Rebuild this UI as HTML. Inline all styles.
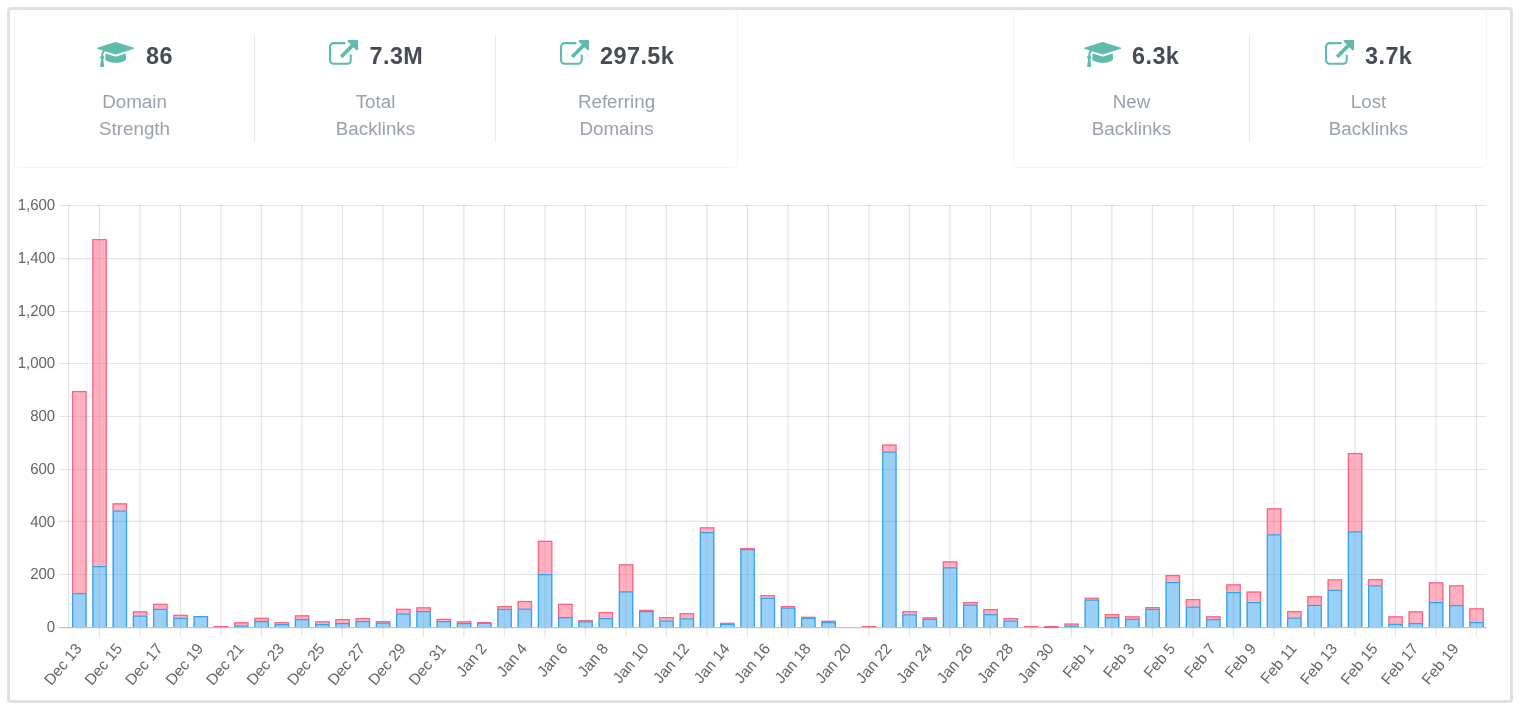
<!DOCTYPE html>
<html lang="en">
<head>
<meta charset="utf-8">
<title>Backlinks Overview</title>
<style>
html,body{margin:0;padding:0;background:#fff;}
body{width:1520px;height:710px;position:relative;overflow:hidden;font-family:"Liberation Sans",Arial,sans-serif;}
.frame{position:absolute;left:7px;top:7px;width:1500px;height:690px;border:3px solid #e1e1e1;border-radius:4px;z-index:5;}
.card{position:absolute;top:9px;height:157px;border:1px solid #f4f4f4;border-radius:6px;background:#fff;}
.c1{left:14px;width:722px;}
.c2{left:1013px;width:472px;}
.div{position:absolute;top:35px;width:1px;height:107px;background:#e5e9f2;}
.ic{position:absolute;}
.num{position:absolute;font-weight:bold;font-size:23.4px;line-height:26px;color:#474b54;white-space:nowrap;letter-spacing:0.45px;}
.lab{position:absolute;width:200px;text-align:center;font-size:18.8px;line-height:27px;color:#99a2ac;}
.chart{position:absolute;left:0;top:0;}
</style>
</head>
<body>
<div class="card c1"></div>
<div class="card c2"></div>
<div class="div" style="left:254px"></div>
<div class="div" style="left:495px"></div>
<div class="div" style="left:1249px"></div>
<svg class="ic" style="left:97px;top:39.6px" width="37.29" height="29" viewBox="0 0 2304 1792"><path fill="#5dbcab" d="M1774 836l18 316q4 69-82 128t-235 93.500-323 34.500-323-34.500-235-93.500-82-128l18-316 574 181q22 7 48 7t48-7zm530-324q0 23-22 31l-1120 352q-4 1-10 1t-10-1l-652-206q-43 34-71 111.500t-34 178.500q63 36 63 109 0 69-58 107l58 433q2 14-8 25-9 11-24 11h-192q-15 0-24-11-10-11-8-25l58-433q-58-38-58-107 0-73 65-111 11-207 98-330l-333-104q-22-8-22-31t22-31l1120-352q4-1 10-1t10 1l1120 352q22 8 22 31z"/></svg>
<div class="num" style="left:146px;top:43px">86</div>
<div class="lab" style="left:34.5px;top:87.5px">Domain<br>Strength</div>
<svg class="ic" style="left:329px;top:39.8px" width="29.00" height="29" viewBox="0 0 1792 1792"><path fill="#5dbcab" d="M1408 928v320q0 119-84.500 203.500t-203.500 84.500h-832q-119 0-203.500-84.500t-84.500-203.500v-832q0-119 84.500-203.500t203.500-84.500h704q14 0 23 9t9 23v64q0 14-9 23t-23 9h-704q-66 0-113 47t-47 113v832q0 66 47 113t113 47h832q66 0 113-47t47-113v-320q0-14 9-23t23-9h64q14 0 23 9t9 23zm384-864v512q0 26-19 45t-45 19-45-19l-176-176-652 652q-10 10-23 10t-23-10l-114-114q-10-10-10-23t10-23l652-652-176-176q-19-19-19-45t19-45 45-19h512q26 0 45 19t19 45z"/></svg>
<div class="num" style="left:369.5px;top:43px">7.3M</div>
<div class="lab" style="left:275.5px;top:87.5px">Total<br>Backlinks</div>
<svg class="ic" style="left:559.6px;top:39.8px" width="29.00" height="29" viewBox="0 0 1792 1792"><path fill="#5dbcab" d="M1408 928v320q0 119-84.500 203.500t-203.500 84.500h-832q-119 0-203.500-84.500t-84.500-203.500v-832q0-119 84.500-203.500t203.500-84.500h704q14 0 23 9t9 23v64q0 14-9 23t-23 9h-704q-66 0-113 47t-47 113v832q0 66 47 113t113 47h832q66 0 113-47t47-113v-320q0-14 9-23t23-9h64q14 0 23 9t9 23zm384-864v512q0 26-19 45t-45 19-45-19l-176-176-652 652q-10 10-23 10t-23-10l-114-114q-10-10-10-23t10-23l652-652-176-176q-19-19-19-45t19-45 45-19h512q26 0 45 19t19 45z"/></svg>
<div class="num" style="left:600px;top:43px">297.5k</div>
<div class="lab" style="left:516.5px;top:87.5px">Referring<br>Domains</div>
<svg class="ic" style="left:1084px;top:39.6px" width="37.29" height="29" viewBox="0 0 2304 1792"><path fill="#5dbcab" d="M1774 836l18 316q4 69-82 128t-235 93.500-323 34.500-323-34.500-235-93.500-82-128l18-316 574 181q22 7 48 7t48-7zm530-324q0 23-22 31l-1120 352q-4 1-10 1t-10-1l-652-206q-43 34-71 111.500t-34 178.500q63 36 63 109 0 69-58 107l58 433q2 14-8 25-9 11-24 11h-192q-15 0-24-11-10-11-8-25l58-433q-58-38-58-107 0-73 65-111 11-207 98-330l-333-104q-22-8-22-31t22-31l1120-352q4-1 10-1t10 1l1120 352q22 8 22 31z"/></svg>
<div class="num" style="left:1132px;top:43px">6.3k</div>
<div class="lab" style="left:1031.5px;top:87.5px">New<br>Backlinks</div>
<svg class="ic" style="left:1324.6px;top:39.8px" width="29.00" height="29" viewBox="0 0 1792 1792"><path fill="#5dbcab" d="M1408 928v320q0 119-84.500 203.500t-203.500 84.500h-832q-119 0-203.500-84.500t-84.500-203.500v-832q0-119 84.500-203.500t203.500-84.500h704q14 0 23 9t9 23v64q0 14-9 23t-23 9h-704q-66 0-113 47t-47 113v832q0 66 47 113t113 47h832q66 0 113-47t47-113v-320q0-14 9-23t23-9h64q14 0 23 9t9 23zm384-864v512q0 26-19 45t-45 19-45-19l-176-176-652 652q-10 10-23 10t-23-10l-114-114q-10-10-10-23t10-23l652-652-176-176q-19-19-19-45t19-45 45-19h512q26 0 45 19t19 45z"/></svg>
<div class="num" style="left:1365px;top:43px">3.7k</div>
<div class="lab" style="left:1268.5px;top:87.5px">Lost<br>Backlinks</div>
<svg class="chart" width="1520" height="710" viewBox="0 0 1520 710">
<g stroke-width="1.2">
<line x1="59" x2="1486.8" y1="627.65" y2="627.65" stroke="rgba(0,0,0,0.23)"/>
<line x1="59" x2="1486.8" y1="574.5" y2="574.5" stroke="rgba(0,0,0,0.1)"/>
<line x1="59" x2="1486.8" y1="521.45" y2="521.45" stroke="rgba(0,0,0,0.1)"/>
<line x1="59" x2="1486.8" y1="469.5" y2="469.5" stroke="rgba(0,0,0,0.1)"/>
<line x1="59" x2="1486.8" y1="416.5" y2="416.5" stroke="rgba(0,0,0,0.1)"/>
<line x1="59" x2="1486.8" y1="363.5" y2="363.5" stroke="rgba(0,0,0,0.1)"/>
<line x1="59" x2="1486.8" y1="311.5" y2="311.5" stroke="rgba(0,0,0,0.1)"/>
<line x1="59" x2="1486.8" y1="258.55" y2="258.55" stroke="rgba(0,0,0,0.1)"/>
<line x1="59" x2="1486.8" y1="205.5" y2="205.5" stroke="rgba(0,0,0,0.1)"/>
<line x1="68.5" x2="68.5" y1="204.9" y2="628.0" stroke="rgba(0,0,0,0.1)"/>
<line x1="99.40" x2="99.40" y1="204.9" y2="637.1" stroke="rgba(0,0,0,0.1)"/>
<line x1="139.90" x2="139.90" y1="204.9" y2="637.1" stroke="rgba(0,0,0,0.1)"/>
<line x1="180.40" x2="180.40" y1="204.9" y2="637.1" stroke="rgba(0,0,0,0.1)"/>
<line x1="220.90" x2="220.90" y1="204.9" y2="637.1" stroke="rgba(0,0,0,0.1)"/>
<line x1="261.40" x2="261.40" y1="204.9" y2="637.1" stroke="rgba(0,0,0,0.1)"/>
<line x1="301.90" x2="301.90" y1="204.9" y2="637.1" stroke="rgba(0,0,0,0.1)"/>
<line x1="342.40" x2="342.40" y1="204.9" y2="637.1" stroke="rgba(0,0,0,0.1)"/>
<line x1="382.90" x2="382.90" y1="204.9" y2="637.1" stroke="rgba(0,0,0,0.1)"/>
<line x1="423.40" x2="423.40" y1="204.9" y2="637.1" stroke="rgba(0,0,0,0.1)"/>
<line x1="463.90" x2="463.90" y1="204.9" y2="637.1" stroke="rgba(0,0,0,0.1)"/>
<line x1="504.40" x2="504.40" y1="204.9" y2="637.1" stroke="rgba(0,0,0,0.1)"/>
<line x1="544.90" x2="544.90" y1="204.9" y2="637.1" stroke="rgba(0,0,0,0.1)"/>
<line x1="585.40" x2="585.40" y1="204.9" y2="637.1" stroke="rgba(0,0,0,0.1)"/>
<line x1="625.90" x2="625.90" y1="204.9" y2="637.1" stroke="rgba(0,0,0,0.1)"/>
<line x1="666.40" x2="666.40" y1="204.9" y2="637.1" stroke="rgba(0,0,0,0.1)"/>
<line x1="706.90" x2="706.90" y1="204.9" y2="637.1" stroke="rgba(0,0,0,0.1)"/>
<line x1="747.40" x2="747.40" y1="204.9" y2="637.1" stroke="rgba(0,0,0,0.1)"/>
<line x1="787.90" x2="787.90" y1="204.9" y2="637.1" stroke="rgba(0,0,0,0.1)"/>
<line x1="828.40" x2="828.40" y1="204.9" y2="637.1" stroke="rgba(0,0,0,0.1)"/>
<line x1="868.90" x2="868.90" y1="204.9" y2="637.1" stroke="rgba(0,0,0,0.1)"/>
<line x1="909.40" x2="909.40" y1="204.9" y2="637.1" stroke="rgba(0,0,0,0.1)"/>
<line x1="949.90" x2="949.90" y1="204.9" y2="637.1" stroke="rgba(0,0,0,0.1)"/>
<line x1="990.40" x2="990.40" y1="204.9" y2="637.1" stroke="rgba(0,0,0,0.1)"/>
<line x1="1030.90" x2="1030.90" y1="204.9" y2="637.1" stroke="rgba(0,0,0,0.1)"/>
<line x1="1071.40" x2="1071.40" y1="204.9" y2="637.1" stroke="rgba(0,0,0,0.1)"/>
<line x1="1111.90" x2="1111.90" y1="204.9" y2="637.1" stroke="rgba(0,0,0,0.1)"/>
<line x1="1152.40" x2="1152.40" y1="204.9" y2="637.1" stroke="rgba(0,0,0,0.1)"/>
<line x1="1192.90" x2="1192.90" y1="204.9" y2="637.1" stroke="rgba(0,0,0,0.1)"/>
<line x1="1233.40" x2="1233.40" y1="204.9" y2="637.1" stroke="rgba(0,0,0,0.1)"/>
<line x1="1273.90" x2="1273.90" y1="204.9" y2="637.1" stroke="rgba(0,0,0,0.1)"/>
<line x1="1314.40" x2="1314.40" y1="204.9" y2="637.1" stroke="rgba(0,0,0,0.1)"/>
<line x1="1354.90" x2="1354.90" y1="204.9" y2="637.1" stroke="rgba(0,0,0,0.1)"/>
<line x1="1395.40" x2="1395.40" y1="204.9" y2="637.1" stroke="rgba(0,0,0,0.1)"/>
<line x1="1435.90" x2="1435.90" y1="204.9" y2="637.1" stroke="rgba(0,0,0,0.1)"/>
<line x1="1476.40" x2="1476.40" y1="204.9" y2="637.1" stroke="rgba(0,0,0,0.1)"/>
</g>
<g stroke-width="1.25">
<rect x="72.03" y="592.98" width="14.58" height="34.12" fill="rgba(54,162,235,0.5)"/>
<path d="M72.66 627.10V593.60H86.00V627.10" fill="none" stroke="rgb(54,162,235)"/>
<rect x="72.03" y="390.94" width="14.58" height="202.03" fill="rgba(255,99,132,0.5)"/>
<path d="M72.66 592.98V391.56H86.00V592.98" fill="none" stroke="rgb(255,99,132)"/>
<rect x="92.28" y="566.07" width="14.58" height="61.03" fill="rgba(54,162,235,0.5)"/>
<path d="M92.91 627.10V566.69H106.25V627.10" fill="none" stroke="rgb(54,162,235)"/>
<rect x="92.28" y="239.02" width="14.58" height="327.05" fill="rgba(255,99,132,0.5)"/>
<path d="M92.91 566.07V239.64H106.25V566.07" fill="none" stroke="rgb(255,99,132)"/>
<rect x="112.53" y="510.42" width="14.58" height="116.68" fill="rgba(54,162,235,0.5)"/>
<path d="M113.16 627.10V511.04H126.50V627.10" fill="none" stroke="rgb(54,162,235)"/>
<rect x="112.53" y="503.30" width="14.58" height="7.12" fill="rgba(255,99,132,0.5)"/>
<path d="M113.16 510.42V503.92H126.50V510.42" fill="none" stroke="rgb(255,99,132)"/>
<rect x="132.78" y="615.39" width="14.58" height="11.71" fill="rgba(54,162,235,0.5)"/>
<path d="M133.41 627.10V616.01H146.74V627.10" fill="none" stroke="rgb(54,162,235)"/>
<rect x="132.78" y="611.17" width="14.58" height="4.22" fill="rgba(255,99,132,0.5)"/>
<path d="M133.41 615.39V611.79H146.74V615.39" fill="none" stroke="rgb(255,99,132)"/>
<rect x="153.03" y="608.80" width="14.58" height="18.30" fill="rgba(54,162,235,0.5)"/>
<path d="M153.66 627.10V609.42H166.99V627.10" fill="none" stroke="rgb(54,162,235)"/>
<rect x="153.03" y="603.79" width="14.58" height="5.01" fill="rgba(255,99,132,0.5)"/>
<path d="M153.66 608.80V604.41H166.99V608.80" fill="none" stroke="rgb(255,99,132)"/>
<rect x="173.28" y="617.77" width="14.58" height="9.33" fill="rgba(54,162,235,0.5)"/>
<path d="M173.91 627.10V618.39H187.24V627.10" fill="none" stroke="rgb(54,162,235)"/>
<rect x="173.28" y="614.87" width="14.58" height="2.90" fill="rgba(255,99,132,0.5)"/>
<path d="M173.91 617.77V615.49H187.24V617.77" fill="none" stroke="rgb(255,99,132)"/>
<rect x="193.53" y="615.92" width="14.58" height="11.18" fill="rgba(54,162,235,0.5)"/>
<path d="M194.16 627.10V616.54H207.49V627.10" fill="none" stroke="rgb(54,162,235)"/>
<rect x="213.78" y="625.95" width="14.58" height="1.05" fill="rgba(255,99,132,0.5)"/>
<path d="M214.41 627.00V626.57H227.74V627.00" fill="none" stroke="rgb(255,99,132)"/>
<rect x="234.03" y="625.42" width="14.58" height="1.68" fill="rgba(54,162,235,0.5)"/>
<path d="M234.66 627.10V626.04H247.99V627.10" fill="none" stroke="rgb(54,162,235)"/>
<rect x="234.03" y="622.25" width="14.58" height="3.16" fill="rgba(255,99,132,0.5)"/>
<path d="M234.66 625.42V622.87H247.99V625.42" fill="none" stroke="rgb(255,99,132)"/>
<rect x="254.28" y="620.93" width="14.58" height="6.17" fill="rgba(54,162,235,0.5)"/>
<path d="M254.91 627.10V621.55H268.25V627.10" fill="none" stroke="rgb(54,162,235)"/>
<rect x="254.28" y="617.77" width="14.58" height="3.17" fill="rgba(255,99,132,0.5)"/>
<path d="M254.91 620.93V618.39H268.25V620.93" fill="none" stroke="rgb(255,99,132)"/>
<rect x="274.53" y="624.10" width="14.58" height="3.00" fill="rgba(54,162,235,0.5)"/>
<path d="M275.15 627.10V624.72H288.50V627.10" fill="none" stroke="rgb(54,162,235)"/>
<rect x="274.53" y="621.99" width="14.58" height="2.11" fill="rgba(255,99,132,0.5)"/>
<path d="M275.15 624.10V622.61H288.50V624.10" fill="none" stroke="rgb(255,99,132)"/>
<rect x="294.78" y="619.09" width="14.58" height="8.01" fill="rgba(54,162,235,0.5)"/>
<path d="M295.40 627.10V619.71H308.75V627.10" fill="none" stroke="rgb(54,162,235)"/>
<rect x="294.78" y="615.13" width="14.58" height="3.96" fill="rgba(255,99,132,0.5)"/>
<path d="M295.40 619.09V615.75H308.75V619.09" fill="none" stroke="rgb(255,99,132)"/>
<rect x="315.03" y="624.10" width="14.58" height="3.00" fill="rgba(54,162,235,0.5)"/>
<path d="M315.65 627.10V624.72H329.00V627.10" fill="none" stroke="rgb(54,162,235)"/>
<rect x="315.03" y="621.20" width="14.58" height="2.90" fill="rgba(255,99,132,0.5)"/>
<path d="M315.65 624.10V621.82H329.00V624.10" fill="none" stroke="rgb(255,99,132)"/>
<rect x="335.28" y="623.04" width="14.58" height="4.06" fill="rgba(54,162,235,0.5)"/>
<path d="M335.90 627.10V623.66H349.25V627.10" fill="none" stroke="rgb(54,162,235)"/>
<rect x="335.28" y="619.09" width="14.58" height="3.96" fill="rgba(255,99,132,0.5)"/>
<path d="M335.90 623.04V619.71H349.25V623.04" fill="none" stroke="rgb(255,99,132)"/>
<rect x="355.53" y="620.93" width="14.58" height="6.17" fill="rgba(54,162,235,0.5)"/>
<path d="M356.15 627.10V621.55H369.50V627.10" fill="none" stroke="rgb(54,162,235)"/>
<rect x="355.53" y="618.03" width="14.58" height="2.90" fill="rgba(255,99,132,0.5)"/>
<path d="M356.15 620.93V618.65H369.50V620.93" fill="none" stroke="rgb(255,99,132)"/>
<rect x="375.78" y="622.52" width="14.58" height="4.58" fill="rgba(54,162,235,0.5)"/>
<path d="M376.40 627.10V623.14H389.75V627.10" fill="none" stroke="rgb(54,162,235)"/>
<rect x="375.78" y="620.93" width="14.58" height="1.58" fill="rgba(255,99,132,0.5)"/>
<path d="M376.40 622.52V621.55H389.75V622.52" fill="none" stroke="rgb(255,99,132)"/>
<rect x="396.03" y="613.55" width="14.58" height="13.55" fill="rgba(54,162,235,0.5)"/>
<path d="M396.65 627.10V614.17H410.00V627.10" fill="none" stroke="rgb(54,162,235)"/>
<rect x="396.03" y="608.80" width="14.58" height="4.75" fill="rgba(255,99,132,0.5)"/>
<path d="M396.65 613.55V609.42H410.00V613.55" fill="none" stroke="rgb(255,99,132)"/>
<rect x="416.28" y="610.91" width="14.58" height="16.19" fill="rgba(54,162,235,0.5)"/>
<path d="M416.90 627.10V611.53H430.25V627.10" fill="none" stroke="rgb(54,162,235)"/>
<rect x="416.28" y="607.22" width="14.58" height="3.69" fill="rgba(255,99,132,0.5)"/>
<path d="M416.90 610.91V607.84H430.25V610.91" fill="none" stroke="rgb(255,99,132)"/>
<rect x="436.53" y="620.93" width="14.58" height="6.17" fill="rgba(54,162,235,0.5)"/>
<path d="M437.15 627.10V621.55H450.50V627.10" fill="none" stroke="rgb(54,162,235)"/>
<rect x="436.53" y="618.82" width="14.58" height="2.11" fill="rgba(255,99,132,0.5)"/>
<path d="M437.15 620.93V619.44H450.50V620.93" fill="none" stroke="rgb(255,99,132)"/>
<rect x="456.78" y="623.04" width="14.58" height="4.06" fill="rgba(54,162,235,0.5)"/>
<path d="M457.40 627.10V623.66H470.75V627.10" fill="none" stroke="rgb(54,162,235)"/>
<rect x="456.78" y="621.20" width="14.58" height="1.85" fill="rgba(255,99,132,0.5)"/>
<path d="M457.40 623.04V621.82H470.75V623.04" fill="none" stroke="rgb(255,99,132)"/>
<rect x="477.03" y="622.78" width="14.58" height="4.32" fill="rgba(54,162,235,0.5)"/>
<path d="M477.65 627.10V623.40H491.00V627.10" fill="none" stroke="rgb(54,162,235)"/>
<rect x="477.03" y="621.99" width="14.58" height="0.79" fill="rgba(255,99,132,0.5)"/>
<path d="M477.65 622.78V622.61H491.00V622.78" fill="none" stroke="rgb(255,99,132)"/>
<rect x="497.28" y="608.80" width="14.58" height="18.30" fill="rgba(54,162,235,0.5)"/>
<path d="M497.90 627.10V609.42H511.25V627.10" fill="none" stroke="rgb(54,162,235)"/>
<rect x="497.28" y="605.90" width="14.58" height="2.90" fill="rgba(255,99,132,0.5)"/>
<path d="M497.90 608.80V606.52H511.25V608.80" fill="none" stroke="rgb(255,99,132)"/>
<rect x="517.54" y="608.54" width="14.58" height="18.56" fill="rgba(54,162,235,0.5)"/>
<path d="M518.16 627.10V609.16H531.50V627.10" fill="none" stroke="rgb(54,162,235)"/>
<rect x="517.54" y="600.89" width="14.58" height="7.65" fill="rgba(255,99,132,0.5)"/>
<path d="M518.16 608.54V601.51H531.50V608.54" fill="none" stroke="rgb(255,99,132)"/>
<rect x="537.79" y="573.99" width="14.58" height="53.11" fill="rgba(54,162,235,0.5)"/>
<path d="M538.41 627.10V574.61H551.75V627.10" fill="none" stroke="rgb(54,162,235)"/>
<rect x="537.79" y="540.75" width="14.58" height="33.23" fill="rgba(255,99,132,0.5)"/>
<path d="M538.41 573.99V541.37H551.75V573.99" fill="none" stroke="rgb(255,99,132)"/>
<rect x="558.04" y="616.98" width="14.58" height="10.12" fill="rgba(54,162,235,0.5)"/>
<path d="M558.66 627.10V617.60H572.00V627.10" fill="none" stroke="rgb(54,162,235)"/>
<rect x="558.04" y="603.79" width="14.58" height="13.19" fill="rgba(255,99,132,0.5)"/>
<path d="M558.66 616.98V604.41H572.00V616.98" fill="none" stroke="rgb(255,99,132)"/>
<rect x="578.29" y="621.20" width="14.58" height="5.90" fill="rgba(54,162,235,0.5)"/>
<path d="M578.91 627.10V621.82H592.25V627.10" fill="none" stroke="rgb(54,162,235)"/>
<rect x="578.29" y="619.88" width="14.58" height="1.32" fill="rgba(255,99,132,0.5)"/>
<path d="M578.91 621.20V620.50H592.25V621.20" fill="none" stroke="rgb(255,99,132)"/>
<rect x="598.54" y="618.03" width="14.58" height="9.07" fill="rgba(54,162,235,0.5)"/>
<path d="M599.16 627.10V618.65H612.50V627.10" fill="none" stroke="rgb(54,162,235)"/>
<rect x="598.54" y="611.97" width="14.58" height="6.07" fill="rgba(255,99,132,0.5)"/>
<path d="M599.16 618.03V612.59H612.50V618.03" fill="none" stroke="rgb(255,99,132)"/>
<rect x="618.79" y="591.13" width="14.58" height="35.97" fill="rgba(54,162,235,0.5)"/>
<path d="M619.41 627.10V591.75H632.75V627.10" fill="none" stroke="rgb(54,162,235)"/>
<rect x="618.79" y="564.23" width="14.58" height="26.90" fill="rgba(255,99,132,0.5)"/>
<path d="M619.41 591.13V564.85H632.75V591.13" fill="none" stroke="rgb(255,99,132)"/>
<rect x="639.04" y="610.91" width="14.58" height="16.19" fill="rgba(54,162,235,0.5)"/>
<path d="M639.66 627.10V611.53H653.00V627.10" fill="none" stroke="rgb(54,162,235)"/>
<rect x="639.04" y="609.86" width="14.58" height="1.05" fill="rgba(255,99,132,0.5)"/>
<path d="M639.66 610.91V610.48H653.00V610.91" fill="none" stroke="rgb(255,99,132)"/>
<rect x="659.29" y="620.41" width="14.58" height="6.69" fill="rgba(54,162,235,0.5)"/>
<path d="M659.91 627.10V621.03H673.25V627.10" fill="none" stroke="rgb(54,162,235)"/>
<rect x="659.29" y="616.98" width="14.58" height="3.43" fill="rgba(255,99,132,0.5)"/>
<path d="M659.91 620.41V617.60H673.25V620.41" fill="none" stroke="rgb(255,99,132)"/>
<rect x="679.54" y="618.30" width="14.58" height="8.80" fill="rgba(54,162,235,0.5)"/>
<path d="M680.16 627.10V618.92H693.50V627.10" fill="none" stroke="rgb(54,162,235)"/>
<rect x="679.54" y="613.02" width="14.58" height="5.27" fill="rgba(255,99,132,0.5)"/>
<path d="M680.16 618.30V613.64H693.50V618.30" fill="none" stroke="rgb(255,99,132)"/>
<rect x="699.79" y="532.05" width="14.58" height="95.05" fill="rgba(54,162,235,0.5)"/>
<path d="M700.41 627.10V532.67H713.75V627.10" fill="none" stroke="rgb(54,162,235)"/>
<rect x="699.79" y="527.30" width="14.58" height="4.75" fill="rgba(255,99,132,0.5)"/>
<path d="M700.41 532.05V527.92H713.75V532.05" fill="none" stroke="rgb(255,99,132)"/>
<rect x="720.04" y="623.84" width="14.58" height="3.26" fill="rgba(54,162,235,0.5)"/>
<path d="M720.66 627.10V624.46H734.00V627.10" fill="none" stroke="rgb(54,162,235)"/>
<rect x="720.04" y="622.78" width="14.58" height="1.06" fill="rgba(255,99,132,0.5)"/>
<path d="M720.66 623.84V623.40H734.00V623.84" fill="none" stroke="rgb(255,99,132)"/>
<rect x="740.29" y="548.93" width="14.58" height="78.17" fill="rgba(54,162,235,0.5)"/>
<path d="M740.91 627.10V549.55H754.25V627.10" fill="none" stroke="rgb(54,162,235)"/>
<rect x="740.29" y="547.88" width="14.58" height="1.06" fill="rgba(255,99,132,0.5)"/>
<path d="M740.91 548.93V548.50H754.25V548.93" fill="none" stroke="rgb(255,99,132)"/>
<rect x="760.54" y="597.72" width="14.58" height="29.38" fill="rgba(54,162,235,0.5)"/>
<path d="M761.16 627.10V598.34H774.50V627.10" fill="none" stroke="rgb(54,162,235)"/>
<rect x="760.54" y="595.09" width="14.58" height="2.64" fill="rgba(255,99,132,0.5)"/>
<path d="M761.16 597.72V595.71H774.50V597.72" fill="none" stroke="rgb(255,99,132)"/>
<rect x="780.79" y="607.48" width="14.58" height="19.62" fill="rgba(54,162,235,0.5)"/>
<path d="M781.41 627.10V608.10H794.75V627.10" fill="none" stroke="rgb(54,162,235)"/>
<rect x="780.79" y="605.90" width="14.58" height="1.58" fill="rgba(255,99,132,0.5)"/>
<path d="M781.41 607.48V606.52H794.75V607.48" fill="none" stroke="rgb(255,99,132)"/>
<rect x="801.04" y="617.77" width="14.58" height="9.33" fill="rgba(54,162,235,0.5)"/>
<path d="M801.66 627.10V618.39H815.00V627.10" fill="none" stroke="rgb(54,162,235)"/>
<rect x="801.04" y="616.71" width="14.58" height="1.05" fill="rgba(255,99,132,0.5)"/>
<path d="M801.66 617.77V617.33H815.00V617.77" fill="none" stroke="rgb(255,99,132)"/>
<rect x="821.29" y="621.99" width="14.58" height="5.11" fill="rgba(54,162,235,0.5)"/>
<path d="M821.91 627.10V622.61H835.25V627.10" fill="none" stroke="rgb(54,162,235)"/>
<rect x="821.29" y="620.67" width="14.58" height="1.32" fill="rgba(255,99,132,0.5)"/>
<path d="M821.91 621.99V621.29H835.25V621.99" fill="none" stroke="rgb(255,99,132)"/>
<rect x="861.79" y="625.95" width="14.58" height="1.05" fill="rgba(255,99,132,0.5)"/>
<path d="M862.41 627.00V626.57H875.75V627.00" fill="none" stroke="rgb(255,99,132)"/>
<rect x="882.04" y="451.61" width="14.58" height="175.49" fill="rgba(54,162,235,0.5)"/>
<path d="M882.66 627.10V452.23H896.00V627.10" fill="none" stroke="rgb(54,162,235)"/>
<rect x="882.04" y="444.49" width="14.58" height="7.12" fill="rgba(255,99,132,0.5)"/>
<path d="M882.66 451.61V445.11H896.00V451.61" fill="none" stroke="rgb(255,99,132)"/>
<rect x="902.29" y="614.34" width="14.58" height="12.76" fill="rgba(54,162,235,0.5)"/>
<path d="M902.91 627.10V614.96H916.25V627.10" fill="none" stroke="rgb(54,162,235)"/>
<rect x="902.29" y="610.91" width="14.58" height="3.43" fill="rgba(255,99,132,0.5)"/>
<path d="M902.91 614.34V611.53H916.25V614.34" fill="none" stroke="rgb(255,99,132)"/>
<rect x="922.54" y="618.82" width="14.58" height="8.28" fill="rgba(54,162,235,0.5)"/>
<path d="M923.16 627.10V619.44H936.50V627.10" fill="none" stroke="rgb(54,162,235)"/>
<rect x="922.54" y="617.24" width="14.58" height="1.58" fill="rgba(255,99,132,0.5)"/>
<path d="M923.16 618.82V617.86H936.50V618.82" fill="none" stroke="rgb(255,99,132)"/>
<rect x="942.79" y="567.13" width="14.58" height="59.97" fill="rgba(54,162,235,0.5)"/>
<path d="M943.41 627.10V567.75H956.75V627.10" fill="none" stroke="rgb(54,162,235)"/>
<rect x="942.79" y="561.33" width="14.58" height="5.80" fill="rgba(255,99,132,0.5)"/>
<path d="M943.41 567.13V561.95H956.75V567.13" fill="none" stroke="rgb(255,99,132)"/>
<rect x="963.04" y="604.58" width="14.58" height="22.52" fill="rgba(54,162,235,0.5)"/>
<path d="M963.66 627.10V605.20H977.00V627.10" fill="none" stroke="rgb(54,162,235)"/>
<rect x="963.04" y="601.94" width="14.58" height="2.64" fill="rgba(255,99,132,0.5)"/>
<path d="M963.66 604.58V602.56H977.00V604.58" fill="none" stroke="rgb(255,99,132)"/>
<rect x="983.29" y="614.08" width="14.58" height="13.02" fill="rgba(54,162,235,0.5)"/>
<path d="M983.91 627.10V614.70H997.25V627.10" fill="none" stroke="rgb(54,162,235)"/>
<rect x="983.29" y="609.07" width="14.58" height="5.01" fill="rgba(255,99,132,0.5)"/>
<path d="M983.91 614.08V609.69H997.25V614.08" fill="none" stroke="rgb(255,99,132)"/>
<rect x="1003.54" y="620.41" width="14.58" height="6.69" fill="rgba(54,162,235,0.5)"/>
<path d="M1004.16 627.10V621.03H1017.50V627.10" fill="none" stroke="rgb(54,162,235)"/>
<rect x="1003.54" y="618.03" width="14.58" height="2.37" fill="rgba(255,99,132,0.5)"/>
<path d="M1004.16 620.41V618.65H1017.50V620.41" fill="none" stroke="rgb(255,99,132)"/>
<rect x="1023.79" y="625.95" width="14.58" height="1.05" fill="rgba(255,99,132,0.5)"/>
<path d="M1024.40 627.00V626.57H1037.75V627.00" fill="none" stroke="rgb(255,99,132)"/>
<rect x="1044.04" y="626.74" width="14.58" height="0.36" fill="rgba(54,162,235,0.5)"/>
<path d="M1044.65 627.10V627.36H1058.00V627.10" fill="none" stroke="rgb(54,162,235)"/>
<rect x="1044.04" y="625.95" width="14.58" height="0.79" fill="rgba(255,99,132,0.5)"/>
<path d="M1044.65 626.74V626.57H1058.00V626.74" fill="none" stroke="rgb(255,99,132)"/>
<rect x="1064.29" y="625.42" width="14.58" height="1.68" fill="rgba(54,162,235,0.5)"/>
<path d="M1064.90 627.10V626.04H1078.25V627.10" fill="none" stroke="rgb(54,162,235)"/>
<rect x="1064.29" y="623.57" width="14.58" height="1.85" fill="rgba(255,99,132,0.5)"/>
<path d="M1064.90 625.42V624.19H1078.25V625.42" fill="none" stroke="rgb(255,99,132)"/>
<rect x="1084.54" y="599.57" width="14.58" height="27.53" fill="rgba(54,162,235,0.5)"/>
<path d="M1085.15 627.10V600.19H1098.50V627.10" fill="none" stroke="rgb(54,162,235)"/>
<rect x="1084.54" y="597.72" width="14.58" height="1.85" fill="rgba(255,99,132,0.5)"/>
<path d="M1085.15 599.57V598.34H1098.50V599.57" fill="none" stroke="rgb(255,99,132)"/>
<rect x="1104.79" y="616.98" width="14.58" height="10.12" fill="rgba(54,162,235,0.5)"/>
<path d="M1105.40 627.10V617.60H1118.75V627.10" fill="none" stroke="rgb(54,162,235)"/>
<rect x="1104.79" y="614.08" width="14.58" height="2.90" fill="rgba(255,99,132,0.5)"/>
<path d="M1105.40 616.98V614.70H1118.75V616.98" fill="none" stroke="rgb(255,99,132)"/>
<rect x="1125.04" y="618.82" width="14.58" height="8.28" fill="rgba(54,162,235,0.5)"/>
<path d="M1125.65 627.10V619.44H1139.00V627.10" fill="none" stroke="rgb(54,162,235)"/>
<rect x="1125.04" y="616.19" width="14.58" height="2.64" fill="rgba(255,99,132,0.5)"/>
<path d="M1125.65 618.82V616.81H1139.00V618.82" fill="none" stroke="rgb(255,99,132)"/>
<rect x="1145.29" y="608.80" width="14.58" height="18.30" fill="rgba(54,162,235,0.5)"/>
<path d="M1145.90 627.10V609.42H1159.25V627.10" fill="none" stroke="rgb(54,162,235)"/>
<rect x="1145.29" y="606.96" width="14.58" height="1.85" fill="rgba(255,99,132,0.5)"/>
<path d="M1145.90 608.80V607.58H1159.25V608.80" fill="none" stroke="rgb(255,99,132)"/>
<rect x="1165.54" y="581.90" width="14.58" height="45.20" fill="rgba(54,162,235,0.5)"/>
<path d="M1166.15 627.10V582.52H1179.50V627.10" fill="none" stroke="rgb(54,162,235)"/>
<rect x="1165.54" y="575.04" width="14.58" height="6.86" fill="rgba(255,99,132,0.5)"/>
<path d="M1166.15 581.90V575.66H1179.50V581.90" fill="none" stroke="rgb(255,99,132)"/>
<rect x="1185.79" y="606.43" width="14.58" height="20.67" fill="rgba(54,162,235,0.5)"/>
<path d="M1186.40 627.10V607.05H1199.75V627.10" fill="none" stroke="rgb(54,162,235)"/>
<rect x="1185.79" y="599.04" width="14.58" height="7.38" fill="rgba(255,99,132,0.5)"/>
<path d="M1186.40 606.43V599.66H1199.75V606.43" fill="none" stroke="rgb(255,99,132)"/>
<rect x="1206.04" y="619.09" width="14.58" height="8.01" fill="rgba(54,162,235,0.5)"/>
<path d="M1206.65 627.10V619.71H1220.00V627.10" fill="none" stroke="rgb(54,162,235)"/>
<rect x="1206.04" y="616.19" width="14.58" height="2.90" fill="rgba(255,99,132,0.5)"/>
<path d="M1206.65 619.09V616.81H1220.00V619.09" fill="none" stroke="rgb(255,99,132)"/>
<rect x="1226.29" y="591.92" width="14.58" height="35.18" fill="rgba(54,162,235,0.5)"/>
<path d="M1226.90 627.10V592.54H1240.25V627.10" fill="none" stroke="rgb(54,162,235)"/>
<rect x="1226.29" y="584.27" width="14.58" height="7.65" fill="rgba(255,99,132,0.5)"/>
<path d="M1226.90 591.92V584.89H1240.25V591.92" fill="none" stroke="rgb(255,99,132)"/>
<rect x="1246.54" y="601.94" width="14.58" height="25.16" fill="rgba(54,162,235,0.5)"/>
<path d="M1247.15 627.10V602.56H1260.50V627.10" fill="none" stroke="rgb(54,162,235)"/>
<rect x="1246.54" y="591.39" width="14.58" height="10.55" fill="rgba(255,99,132,0.5)"/>
<path d="M1247.15 601.94V592.01H1260.50V601.94" fill="none" stroke="rgb(255,99,132)"/>
<rect x="1266.79" y="534.16" width="14.58" height="92.94" fill="rgba(54,162,235,0.5)"/>
<path d="M1267.40 627.10V534.78H1280.75V627.10" fill="none" stroke="rgb(54,162,235)"/>
<rect x="1266.79" y="508.31" width="14.58" height="25.85" fill="rgba(255,99,132,0.5)"/>
<path d="M1267.40 534.16V508.93H1280.75V534.16" fill="none" stroke="rgb(255,99,132)"/>
<rect x="1287.04" y="617.50" width="14.58" height="9.60" fill="rgba(54,162,235,0.5)"/>
<path d="M1287.65 627.10V618.12H1301.00V627.10" fill="none" stroke="rgb(54,162,235)"/>
<rect x="1287.04" y="610.91" width="14.58" height="6.59" fill="rgba(255,99,132,0.5)"/>
<path d="M1287.65 617.50V611.53H1301.00V617.50" fill="none" stroke="rgb(255,99,132)"/>
<rect x="1307.29" y="604.85" width="14.58" height="22.25" fill="rgba(54,162,235,0.5)"/>
<path d="M1307.90 627.10V605.47H1321.25V627.10" fill="none" stroke="rgb(54,162,235)"/>
<rect x="1307.29" y="596.14" width="14.58" height="8.70" fill="rgba(255,99,132,0.5)"/>
<path d="M1307.90 604.85V596.76H1321.25V604.85" fill="none" stroke="rgb(255,99,132)"/>
<rect x="1327.54" y="589.81" width="14.58" height="37.29" fill="rgba(54,162,235,0.5)"/>
<path d="M1328.15 627.10V590.43H1341.50V627.10" fill="none" stroke="rgb(54,162,235)"/>
<rect x="1327.54" y="579.26" width="14.58" height="10.55" fill="rgba(255,99,132,0.5)"/>
<path d="M1328.15 589.81V579.88H1341.50V589.81" fill="none" stroke="rgb(255,99,132)"/>
<rect x="1347.79" y="531.26" width="14.58" height="95.84" fill="rgba(54,162,235,0.5)"/>
<path d="M1348.40 627.10V531.88H1361.75V627.10" fill="none" stroke="rgb(54,162,235)"/>
<rect x="1347.79" y="452.93" width="14.58" height="78.33" fill="rgba(255,99,132,0.5)"/>
<path d="M1348.40 531.26V453.55H1361.75V531.26" fill="none" stroke="rgb(255,99,132)"/>
<rect x="1368.04" y="585.33" width="14.58" height="41.77" fill="rgba(54,162,235,0.5)"/>
<path d="M1368.65 627.10V585.95H1382.00V627.10" fill="none" stroke="rgb(54,162,235)"/>
<rect x="1368.04" y="579.00" width="14.58" height="6.33" fill="rgba(255,99,132,0.5)"/>
<path d="M1368.65 585.33V579.62H1382.00V585.33" fill="none" stroke="rgb(255,99,132)"/>
<rect x="1388.29" y="623.84" width="14.58" height="3.26" fill="rgba(54,162,235,0.5)"/>
<path d="M1388.90 627.10V624.46H1402.25V627.10" fill="none" stroke="rgb(54,162,235)"/>
<rect x="1388.29" y="616.19" width="14.58" height="7.65" fill="rgba(255,99,132,0.5)"/>
<path d="M1388.90 623.84V616.81H1402.25V623.84" fill="none" stroke="rgb(255,99,132)"/>
<rect x="1408.54" y="623.04" width="14.58" height="4.06" fill="rgba(54,162,235,0.5)"/>
<path d="M1409.15 627.10V623.66H1422.50V627.10" fill="none" stroke="rgb(54,162,235)"/>
<rect x="1408.54" y="611.17" width="14.58" height="11.87" fill="rgba(255,99,132,0.5)"/>
<path d="M1409.15 623.04V611.79H1422.50V623.04" fill="none" stroke="rgb(255,99,132)"/>
<rect x="1428.79" y="601.94" width="14.58" height="25.16" fill="rgba(54,162,235,0.5)"/>
<path d="M1429.40 627.10V602.56H1442.75V627.10" fill="none" stroke="rgb(54,162,235)"/>
<rect x="1428.79" y="582.16" width="14.58" height="19.78" fill="rgba(255,99,132,0.5)"/>
<path d="M1429.40 601.94V582.78H1442.75V601.94" fill="none" stroke="rgb(255,99,132)"/>
<rect x="1449.04" y="605.11" width="14.58" height="21.99" fill="rgba(54,162,235,0.5)"/>
<path d="M1449.65 627.10V605.73H1463.00V627.10" fill="none" stroke="rgb(54,162,235)"/>
<rect x="1449.04" y="585.33" width="14.58" height="19.78" fill="rgba(255,99,132,0.5)"/>
<path d="M1449.65 605.11V585.95H1463.00V605.11" fill="none" stroke="rgb(255,99,132)"/>
<rect x="1469.29" y="621.99" width="14.58" height="5.11" fill="rgba(54,162,235,0.5)"/>
<path d="M1469.90 627.10V622.61H1483.25V627.10" fill="none" stroke="rgb(54,162,235)"/>
<rect x="1469.29" y="608.27" width="14.58" height="13.72" fill="rgba(255,99,132,0.5)"/>
<path d="M1469.90 621.99V608.89H1483.25V621.99" fill="none" stroke="rgb(255,99,132)"/>
</g>
<g font-family="'Liberation Sans', Arial, sans-serif" font-size="15.4" fill="#666" text-rendering="geometricPrecision">
<text transform="translate(55.2,632.10) scale(0.975,1.03)" text-anchor="end">0</text>
<text transform="translate(55.2,579.35) scale(0.975,1.03)" text-anchor="end">200</text>
<text transform="translate(55.2,526.60) scale(0.975,1.03)" text-anchor="end">400</text>
<text transform="translate(55.2,473.85) scale(0.975,1.03)" text-anchor="end">600</text>
<text transform="translate(55.2,421.10) scale(0.975,1.03)" text-anchor="end">800</text>
<text transform="translate(55.2,368.35) scale(0.975,1.03)" text-anchor="end">1,000</text>
<text transform="translate(55.2,315.60) scale(0.975,1.03)" text-anchor="end">1,200</text>
<text transform="translate(55.2,262.85) scale(0.975,1.03)" text-anchor="end">1,400</text>
<text transform="translate(55.2,210.10) scale(0.975,1.03)" text-anchor="end">1,600</text>
<text transform="translate(78.38,645.5) rotate(-50)" text-anchor="end" dy="0.35em">Dec 13</text>
<text transform="translate(118.88,645.5) rotate(-50)" text-anchor="end" dy="0.35em">Dec 15</text>
<text transform="translate(159.38,645.5) rotate(-50)" text-anchor="end" dy="0.35em">Dec 17</text>
<text transform="translate(199.88,645.5) rotate(-50)" text-anchor="end" dy="0.35em">Dec 19</text>
<text transform="translate(240.38,645.5) rotate(-50)" text-anchor="end" dy="0.35em">Dec 21</text>
<text transform="translate(280.88,645.5) rotate(-50)" text-anchor="end" dy="0.35em">Dec 23</text>
<text transform="translate(321.38,645.5) rotate(-50)" text-anchor="end" dy="0.35em">Dec 25</text>
<text transform="translate(361.88,645.5) rotate(-50)" text-anchor="end" dy="0.35em">Dec 27</text>
<text transform="translate(402.38,645.5) rotate(-50)" text-anchor="end" dy="0.35em">Dec 29</text>
<text transform="translate(442.88,645.5) rotate(-50)" text-anchor="end" dy="0.35em">Dec 31</text>
<text transform="translate(483.38,645.5) rotate(-50)" text-anchor="end" dy="0.35em">Jan 2</text>
<text transform="translate(523.88,645.5) rotate(-50)" text-anchor="end" dy="0.35em">Jan 4</text>
<text transform="translate(564.38,645.5) rotate(-50)" text-anchor="end" dy="0.35em">Jan 6</text>
<text transform="translate(604.88,645.5) rotate(-50)" text-anchor="end" dy="0.35em">Jan 8</text>
<text transform="translate(645.38,645.5) rotate(-50)" text-anchor="end" dy="0.35em">Jan 10</text>
<text transform="translate(685.88,645.5) rotate(-50)" text-anchor="end" dy="0.35em">Jan 12</text>
<text transform="translate(726.38,645.5) rotate(-50)" text-anchor="end" dy="0.35em">Jan 14</text>
<text transform="translate(766.88,645.5) rotate(-50)" text-anchor="end" dy="0.35em">Jan 16</text>
<text transform="translate(807.38,645.5) rotate(-50)" text-anchor="end" dy="0.35em">Jan 18</text>
<text transform="translate(847.88,645.5) rotate(-50)" text-anchor="end" dy="0.35em">Jan 20</text>
<text transform="translate(888.38,645.5) rotate(-50)" text-anchor="end" dy="0.35em">Jan 22</text>
<text transform="translate(928.88,645.5) rotate(-50)" text-anchor="end" dy="0.35em">Jan 24</text>
<text transform="translate(969.38,645.5) rotate(-50)" text-anchor="end" dy="0.35em">Jan 26</text>
<text transform="translate(1009.88,645.5) rotate(-50)" text-anchor="end" dy="0.35em">Jan 28</text>
<text transform="translate(1050.38,645.5) rotate(-50)" text-anchor="end" dy="0.35em">Jan 30</text>
<text transform="translate(1090.88,645.5) rotate(-50)" text-anchor="end" dy="0.35em">Feb 1</text>
<text transform="translate(1131.38,645.5) rotate(-50)" text-anchor="end" dy="0.35em">Feb 3</text>
<text transform="translate(1171.88,645.5) rotate(-50)" text-anchor="end" dy="0.35em">Feb 5</text>
<text transform="translate(1212.38,645.5) rotate(-50)" text-anchor="end" dy="0.35em">Feb 7</text>
<text transform="translate(1252.88,645.5) rotate(-50)" text-anchor="end" dy="0.35em">Feb 9</text>
<text transform="translate(1293.38,645.5) rotate(-50)" text-anchor="end" dy="0.35em">Feb 11</text>
<text transform="translate(1333.88,645.5) rotate(-50)" text-anchor="end" dy="0.35em">Feb 13</text>
<text transform="translate(1374.38,645.5) rotate(-50)" text-anchor="end" dy="0.35em">Feb 15</text>
<text transform="translate(1414.88,645.5) rotate(-50)" text-anchor="end" dy="0.35em">Feb 17</text>
<text transform="translate(1455.38,645.5) rotate(-50)" text-anchor="end" dy="0.35em">Feb 19</text>
</g>
</svg>
<div class="frame"></div>
</body>
</html>
